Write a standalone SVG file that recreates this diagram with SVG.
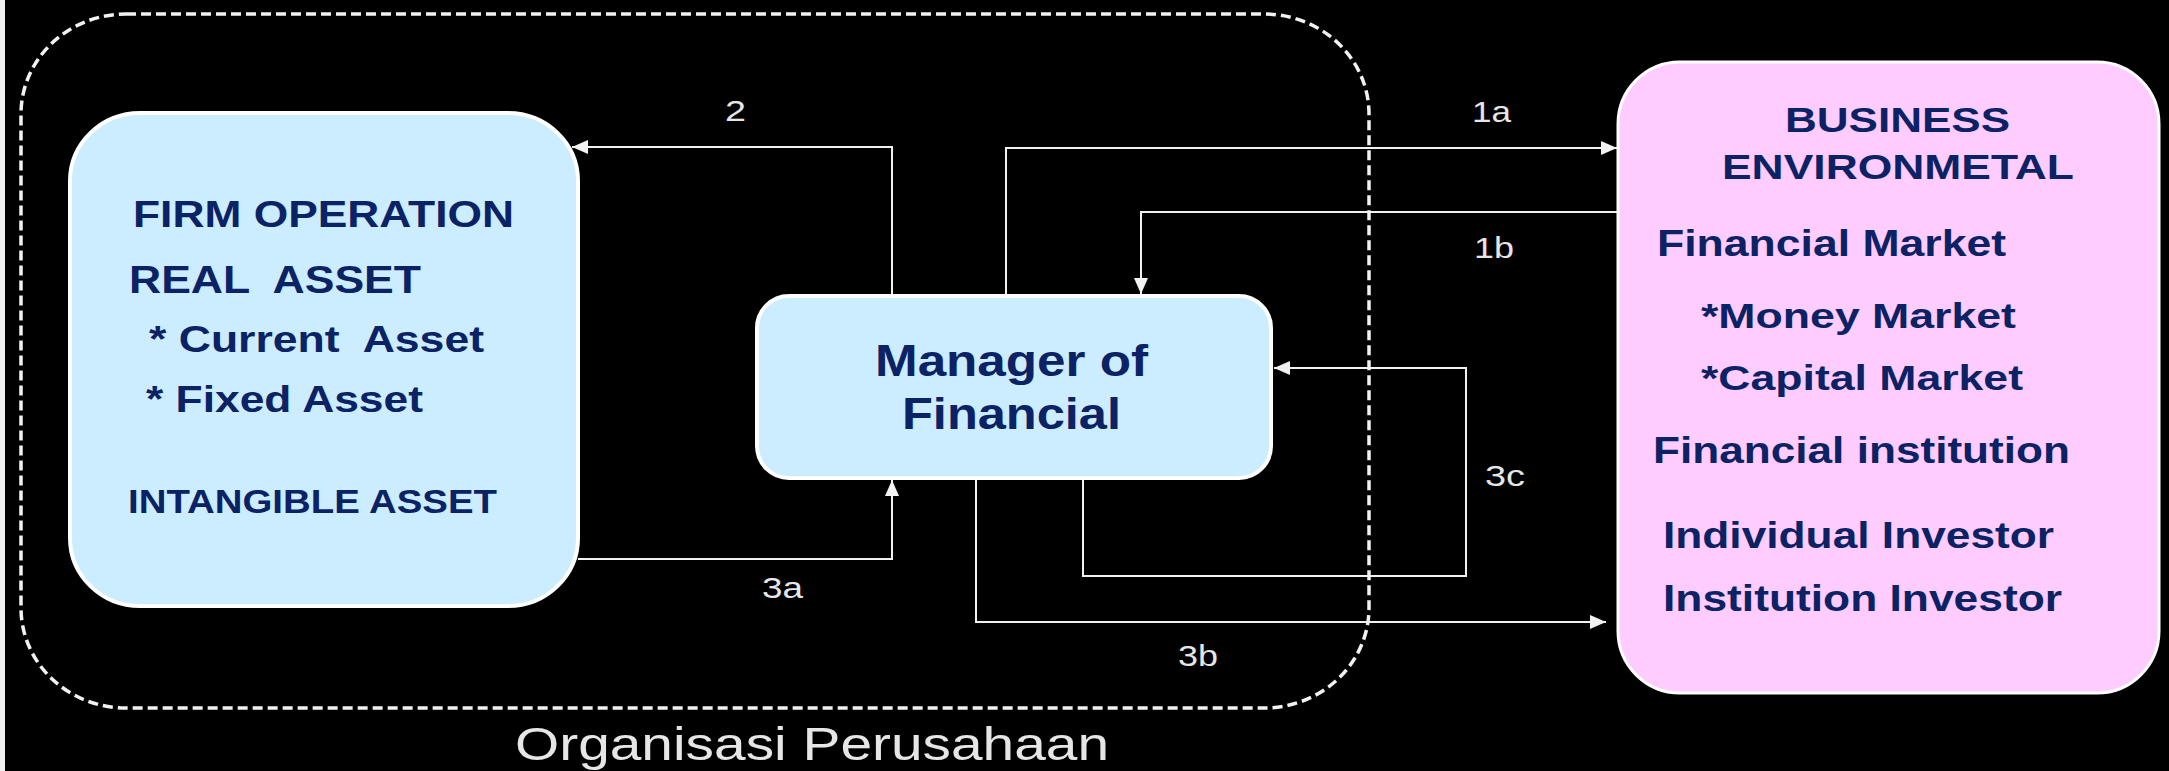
<svg xmlns="http://www.w3.org/2000/svg" width="2169" height="771" viewBox="0 0 2169 771">
<style>
.node-blue{fill:#CCECFF;stroke:#FFFFFF;stroke-width:4}
.node-pink{fill:#FFCCFF;stroke:#FFFFFF;stroke-width:3}
.t{font-family:"Liberation Sans",Arial,sans-serif;font-weight:bold;fill:#0B2265;white-space:pre}
.lbl{font-family:"Liberation Sans",Arial,sans-serif;fill:#E6E6E6;font-size:29px}
.conn{fill:none;stroke:#F2F2F2;stroke-width:2}
</style>
<defs>
<marker id="ah" markerUnits="userSpaceOnUse" markerWidth="16" markerHeight="14" refX="16" refY="7" orient="auto">
<path d="M0,0 L16,7 L0,14 z" fill="#F2F2F2"/>
</marker>
</defs>
<rect x="0" y="0" width="2169" height="771" fill="#000000"/>
<rect x="0" y="0" width="5" height="771" fill="#F0F0EE"/>

<g id="organisasi">
<rect x="21" y="14" width="1348" height="694" rx="105" ry="100" fill="none" stroke="#F2F2F2" stroke-width="3.5" stroke-dasharray="10 5"/>
<text class="lbl" x="515" y="760" style="font-size:46px" textLength="594" lengthAdjust="spacingAndGlyphs">Organisasi Perusahaan</text>
</g>

<g id="connectors">
<path class="conn" d="M892,296 V147 H572" marker-end="url(#ah)"/>
<path class="conn" d="M1006,296 V148 H1617" marker-end="url(#ah)"/>
<path class="conn" d="M1618,212 H1141 V294" marker-end="url(#ah)"/>
<path class="conn" d="M1083,478 V576 H1466 V368 H1274" marker-end="url(#ah)"/>
<path class="conn" d="M976,478 V622 H1606" marker-end="url(#ah)"/>
<path class="conn" d="M578,559 H892 V480" marker-end="url(#ah)"/>
<text class="lbl" x="725" y="121" textLength="21" lengthAdjust="spacingAndGlyphs">2</text>
<text class="lbl" x="1472" y="122" textLength="39" lengthAdjust="spacingAndGlyphs">1a</text>
<text class="lbl" x="1474" y="258" textLength="40" lengthAdjust="spacingAndGlyphs">1b</text>
<text class="lbl" x="1485" y="486" textLength="40" lengthAdjust="spacingAndGlyphs">3c</text>
<text class="lbl" x="1178" y="666" textLength="40" lengthAdjust="spacingAndGlyphs">3b</text>
<text class="lbl" x="762" y="598" textLength="41" lengthAdjust="spacingAndGlyphs">3a</text>
</g>

<g id="firm-operation">
<rect class="node-blue" x="70" y="113" width="508" height="493" rx="70" ry="68"/>
<text class="t" x="133" y="227" font-size="37" textLength="381" lengthAdjust="spacingAndGlyphs">FIRM OPERATION</text>
<text class="t" x="129" y="293" font-size="38" textLength="292" lengthAdjust="spacingAndGlyphs">REAL  ASSET</text>
<text class="t" x="149" y="352" font-size="37" textLength="335" lengthAdjust="spacingAndGlyphs">* Current  Asset</text>
<text class="t" x="146" y="412" font-size="37" textLength="277" lengthAdjust="spacingAndGlyphs">* Fixed Asset</text>
<text class="t" x="128" y="513" font-size="33" textLength="369" lengthAdjust="spacingAndGlyphs">INTANGIBLE ASSET</text>
</g>

<g id="manager">
<rect class="node-blue" x="757" y="296" width="514" height="182" rx="32"/>
<text class="t" x="875" y="376" font-size="45" textLength="273" lengthAdjust="spacingAndGlyphs">Manager of</text>
<text class="t" x="902" y="429" font-size="45" textLength="219" lengthAdjust="spacingAndGlyphs">Financial</text>
</g>

<g id="business-environment">
<rect class="node-pink" x="1618" y="62" width="541" height="631" rx="62"/>
<text class="t" x="1785" y="132" font-size="35" textLength="225" lengthAdjust="spacingAndGlyphs">BUSINESS</text>
<text class="t" x="1722" y="179" font-size="35" textLength="352" lengthAdjust="spacingAndGlyphs">ENVIRONMETAL</text>
<text class="t" x="1657" y="256" font-size="36" textLength="349" lengthAdjust="spacingAndGlyphs">Financial Market</text>
<text class="t" x="1701" y="328" font-size="35" textLength="315" lengthAdjust="spacingAndGlyphs">*Money Market</text>
<text class="t" x="1701" y="390" font-size="35" textLength="322" lengthAdjust="spacingAndGlyphs">*Capital Market</text>
<text class="t" x="1653" y="463" font-size="36" textLength="417" lengthAdjust="spacingAndGlyphs">Financial institution</text>
<text class="t" x="1663" y="548" font-size="36" textLength="391" lengthAdjust="spacingAndGlyphs">Individual Investor</text>
<text class="t" x="1663" y="611" font-size="36" textLength="399" lengthAdjust="spacingAndGlyphs">Institution Investor</text>
</g>
</svg>
